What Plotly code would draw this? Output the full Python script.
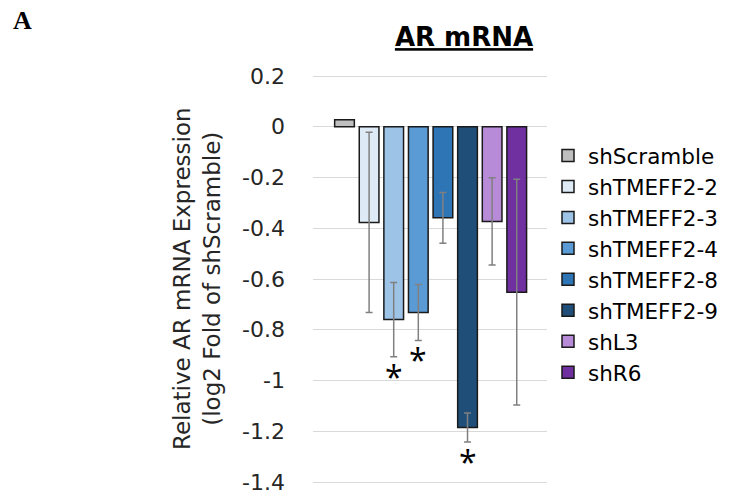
import plotly.graph_objects as go

categories = ["shScramble", "shTMEFF2-2", "shTMEFF2-3", "shTMEFF2-4",
              "shTMEFF2-8", "shTMEFF2-9", "shL3", "shR6"]
values = [0.028, -0.377, -0.760, -0.732, -0.359, -1.185, -0.373, -0.652]
errors = [0.0, 0.355, 0.146, 0.110, 0.100, 0.057, 0.172, 0.445]
significant = [False, False, True, True, False, True, False, False]
colors = ["#BFBFBF", "#DEEBF7", "#9DC3E6", "#5B9BD5",
          "#2E75B6", "#1F4E79", "#B88BD8", "#7030A0"]
tick_vals = [0.2, 0, -0.2, -0.4, -0.6, -0.8, -1.0, -1.2, -1.4]
tick_text = ["0.2", "0", "-0.2", "-0.4", "-0.6", "-0.8", "-1", "-1.2", "-1.4"]

FONT = "DejaVu Sans"
GRID = "#D9D9D9"
W, H = 738, 493
L, R, T, B = 313, 191, 72, 3
PW, PH = W - L - R, H - T - B
PX_PER_UNIT = 406 / 1.6
Y_RANGE = [-1.4 - 8 / PX_PER_UNIT, 0.2 + 4 / PX_PER_UNIT]

fig = go.Figure()
for i, (cat, v, e, c) in enumerate(zip(categories, values, errors, colors)):
    fig.add_trace(go.Bar(
        x=[i], y=[v], name=cat, width=0.8,
        marker=dict(color=c, line=dict(color="#1a1a1a", width=1.5)),
        error_y=dict(type="data", array=[e], visible=e > 0,
                     color="#808080", thickness=1.5, width=3.5),
    ))

for i, (v, e, s) in enumerate(zip(values, errors, significant)):
    if s:
        fig.add_annotation(x=i, y=v - e, xref="x", yref="y", text="*",
                           showarrow=False, yanchor="top", yshift=4,
                           font=dict(family="Open Sans", size=32, color="#000"))

fig.add_annotation(
    text="Relative AR mRNA Expression<br>(log2 Fold of shScramble)",
    textangle=-90, xref="paper", yref="paper",
    x=(197 - L) / PW, y=1 - (279 - T) / PH, xanchor="center", yanchor="middle",
    showarrow=False, font=dict(family=FONT, size=23, color="#262626"))

fig.add_annotation(
    text="<b>A</b>", xref="paper", yref="paper",
    x=(11 - L) / PW, y=1 + (T - 20) / PH,
    xanchor="left", yanchor="middle", showarrow=False,
    font=dict(family="Liberation Serif", size=26, color="#000"))

fig.update_layout(
    width=W, height=H,
    margin=dict(l=L, r=R, t=T, b=B, autoexpand=False),
    paper_bgcolor="white", plot_bgcolor="white",
    title=dict(text="<b><u>AR mRNA</u></b>", xref="container", yref="container",
               x=464 / W, y=1 - 37 / H, xanchor="center", yanchor="middle",
               font=dict(family=FONT, size=26, color="#000")),
    barmode="overlay",
    showlegend=True,
    legend=dict(x=(548 - L) / PW, y=1 - (135 - T) / PH,
                xanchor="left", yanchor="top",
                font=dict(family=FONT, size=21.5, color="#000"),
                bgcolor="rgba(0,0,0,0)", tracegroupgap=0),
    xaxis=dict(range=[-1.28, 8.23], showticklabels=False, showgrid=False,
               zeroline=False, showline=False, fixedrange=True, automargin=False),
    yaxis=dict(range=Y_RANGE, tickvals=tick_vals, ticktext=tick_text,
               showgrid=True, gridcolor=GRID, gridwidth=1,
               zeroline=False, showline=False, ticks="", automargin=False,
               ticklabelstandoff=27, ticklabeloverflow="allow",
               tickfont=dict(family=FONT, size=22, color="#262626")),
)

fig.write_html("out.html", config={"displayModeBar": False},
               post_script="document.body.style.margin='0';")
